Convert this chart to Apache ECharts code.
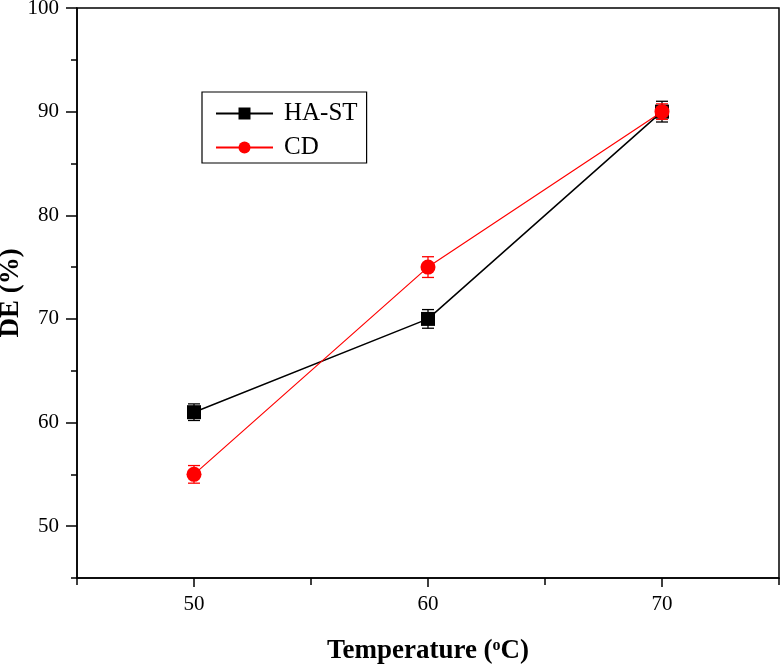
<!DOCTYPE html>
<html>
<head>
<meta charset="utf-8">
<script src="https://cdn.jsdelivr.net/npm/echarts@6/dist/echarts.min.js"></script>
<style>html,body{margin:0;padding:0;background:#fff;}#c{width:780px;height:667px;}</style>
</head>
<body>
<div id="c"></div>
<script>
var temps = [50, 60, 70];
var haST = [61, 70, 90];
var haSTErr = [0.8, 0.9, 1.0];
var cd = [55, 75, 90];
var cdErr = [0.85, 1.0, 0.75];
var xMajor = [50, 60, 70];
var xMinor = [45, 55, 65, 75];
var yMajor = [50, 60, 70, 80, 90, 100];
var yMinor = [45, 55, 65, 75, 85, 95];

var FONT = 'Liberation Serif';

function errSeries(vals, errs, color) {
  var data = temps.map(function (t, i) { return [t, vals[i] - errs[i], vals[i] + errs[i]]; });
  return {
    type: 'custom',
    xAxisIndex: 0, yAxisIndex: 0,
    silent: true,
    z: 1,
    renderItem: function (params, api) {
      var x = api.value(0);
      var lo = api.coord([x, api.value(1)]);
      var hi = api.coord([x, api.value(2)]);
      var w = 6;
      var st = { stroke: color, lineWidth: 1.3 };
      return {
        type: 'group',
        children: [
          { type: 'line', shape: { x1: lo[0], y1: lo[1], x2: hi[0], y2: hi[1] }, style: st },
          { type: 'line', shape: { x1: lo[0] - w, y1: lo[1], x2: lo[0] + w, y2: lo[1] }, style: st },
          { type: 'line', shape: { x1: hi[0] - w, y1: hi[1], x2: hi[0] + w, y2: hi[1] }, style: st }
        ]
      };
    },
    encode: { x: 0, y: [1, 2] },
    data: data
  };
}

var chart = echarts.init(document.getElementById('c'), null, { renderer: 'canvas' });
var axisLine = { show: true, lineStyle: { color: '#000', width: 1.5 } };
chart.setOption({
  animation: false,
  backgroundColor: '#fff',
  grid: { left: 77, right: 1, top: 8, bottom: 89, show: true, borderColor: '#000', borderWidth: 1.5, containLabel: false, outerBoundsMode: 'none' },
  legend: {
    left: 202, top: 92,
    orient: 'vertical',
    itemWidth: 57, itemHeight: 15, itemGap: 9,
    padding: [9, 9, 3, 13],
    borderColor: '#000', borderWidth: 1.2,
    backgroundColor: '#fff',
    textStyle: { fontFamily: FONT, fontSize: 25, color: '#000', padding: [0, 0, 0, 6] },
    data: ['HA-ST', 'CD']
  },
  xAxis: [
    {
      type: 'value', min: 45, max: 75,
      axisLine: axisLine,
      splitLine: { show: false },
      axisTick: { show: true, inside: false, length: 9, customValues: xMajor, lineStyle: { color: '#000', width: 1.5 } },
      axisLabel: { customValues: xMajor, margin: 16, fontFamily: FONT, fontSize: 21, color: '#000' },
      name: '{b|Temperature (}{s|o}{b|C)}',
      nameLocation: 'middle', nameGap: 60,
      nameTextStyle: { rich: { b: { fontFamily: FONT, fontSize: 27, fontWeight: 'bold', color: '#000', verticalAlign: 'bottom' }, s: { fontFamily: FONT, fontSize: 16, fontWeight: 'bold', color: '#000', verticalAlign: 'top', padding: [0, 0, 10, 0] } } }
    },
    {
      type: 'value', min: 45, max: 75, position: 'bottom',
      axisLine: { show: false },
      splitLine: { show: false },
      axisTick: { show: true, length: 7, customValues: xMinor, lineStyle: { color: '#000', width: 1.5 } },
      axisLabel: { show: false }
    }
  ],
  yAxis: [
    {
      type: 'value', min: 45, max: 100,
      axisLine: axisLine,
      splitLine: { show: false },
      axisTick: { show: true, length: 11, customValues: yMajor, lineStyle: { color: '#000', width: 1.5 } },
      axisLabel: { customValues: yMajor, margin: 18, fontFamily: FONT, fontSize: 21, color: '#000' },
      name: 'DE (%)',
      nameLocation: 'middle', nameGap: 52, nameRotate: 90, nameMoveOverlap: false,
      nameTextStyle: { fontFamily: FONT, fontSize: 27, fontWeight: 'bold', color: '#000' }
    },
    {
      type: 'value', min: 45, max: 100, position: 'left',
      axisLine: { show: false },
      splitLine: { show: false },
      axisTick: { show: true, length: 6, customValues: yMinor, lineStyle: { color: '#000', width: 1.5 } },
      axisLabel: { show: false }
    }
  ],
  series: [
    errSeries(haST, haSTErr, '#000'),
    errSeries(cd, cdErr, '#ff0000'),
    {
      name: 'HA-ST', type: 'line', xAxisIndex: 0, yAxisIndex: 0,
      data: temps.map(function (t, i) { return [t, haST[i]]; }),
      symbol: 'rect', symbolSize: 14,
      itemStyle: { color: '#000' },
      lineStyle: { color: '#000', width: 1.5 },
      z: 3
    },
    {
      name: 'CD', type: 'line', xAxisIndex: 0, yAxisIndex: 0,
      data: temps.map(function (t, i) { return [t, cd[i]]; }),
      symbol: 'circle', symbolSize: 15,
      itemStyle: { color: '#ff0000' },
      lineStyle: { color: '#ff0000', width: 1.2 },
      z: 4
    }
  ]
});
</script>
</body>
</html>
